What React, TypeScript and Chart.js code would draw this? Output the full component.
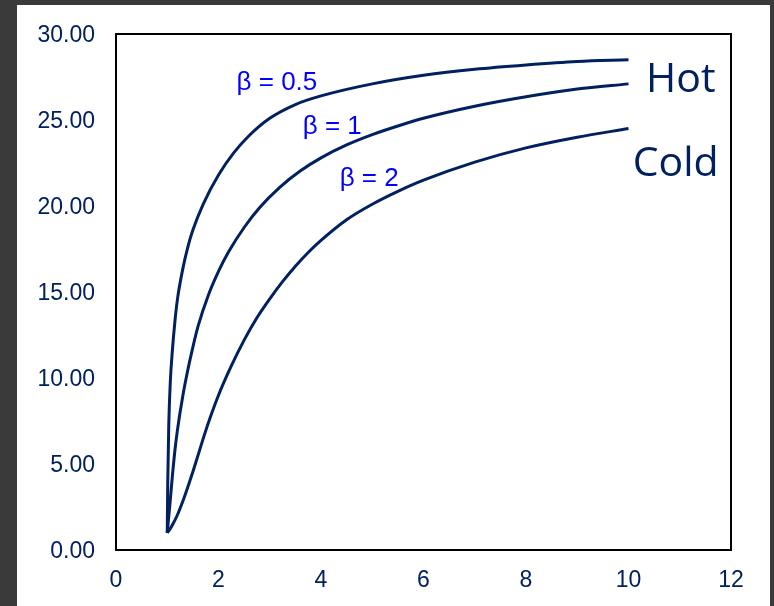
import React, { useEffect, useRef } from 'react';
import { Chart, registerables } from 'chart.js';

Chart.register(...registerables);

// Tick values
const xTickValues = [0, 2, 4, 6, 8, 10, 12];
const yTickValues = [0, 5, 10, 15, 20, 25, 30];

// Series beta = 0.5
const xBetaHalf = [1, 1.01, 1.03, 1.06, 1.1, 1.15, 1.2, 1.3, 1.4, 1.5, 1.7, 2.0, 2.3, 2.6, 3.0, 3.5, 4, 5, 6, 7, 8, 9, 10];
const yBetaHalf = [1, 4.0, 7.3, 9.8, 11.6, 13.3, 14.6, 16.3, 17.6, 18.6, 20.1, 21.8, 23.1, 24.1, 25.1, 25.9, 26.4, 27.1, 27.6, 27.95, 28.2, 28.4, 28.5];

// Series beta = 1
const xBetaOne = [1, 1.05, 1.1, 1.15, 1.2, 1.3, 1.4, 1.5, 1.6, 1.8, 2.0, 2.2, 2.5, 2.8, 3.2, 3.6, 4.0, 4.5, 5, 5.5, 6, 7, 8, 9, 10];
const yBetaOne = [1, 2.6, 4.3, 5.8, 7.0, 8.9, 10.45, 11.8, 13.0, 14.8, 16.2, 17.35, 18.75, 19.9, 21.1, 22.05, 22.8, 23.55, 24.15, 24.65, 25.1, 25.8, 26.35, 26.8, 27.1];

// Series beta = 2
const xBetaTwo = [1, 1.05, 1.1, 1.2, 1.3, 1.4, 1.5, 1.6, 1.72, 1.85, 2.0, 2.25, 2.5, 2.75, 3, 3.25, 3.5, 3.75, 4, 4.5, 5, 5.5, 6, 7, 8, 9, 10];
const yBetaTwo = [1, 1.2, 1.45, 2.05, 2.8, 3.65, 4.55, 5.5, 6.65, 7.8, 9.0, 10.7, 12.2, 13.5, 14.6, 15.6, 16.5, 17.3, 18.0, 19.2, 20.1, 20.85, 21.5, 22.55, 23.38, 24.0, 24.5];

// Text labels
const labelTexts = ['\u03b2 = 0.5', '\u03b2 = 1', '\u03b2 = 2', 'Hot', 'Cold'];
const labelX = [3.14, 4.22, 4.94, 11.02, 10.92];
const labelY = [27.15, 24.6, 21.6, 27.3, 22.4];

const NAVY = '#002060';

function toPoints(xs: number[], ys: number[]) {
  return xs.map((x, i) => ({ x, y: ys[i] }));
}

const framePlugin = {
  id: 'frameAndLabels',
  afterDatasetsDraw(chart: any) {
    const { ctx, chartArea, scales } = chart;
    ctx.save();
    ctx.strokeStyle = '#000000';
    ctx.lineWidth = 2;
    ctx.strokeRect(chartArea.left, chartArea.top, chartArea.right - chartArea.left, chartArea.bottom - chartArea.top);
    ctx.textAlign = 'center';
    ctx.textBaseline = 'middle';
    labelTexts.forEach((t, i) => {
      const px = scales.x.getPixelForValue(labelX[i]);
      const py = scales.y.getPixelForValue(labelY[i]);
      if (i < 3) {
        ctx.fillStyle = '#0000ff';
        ctx.font = '26px "Liberation Sans", Arial, sans-serif';
      } else {
        ctx.fillStyle = NAVY;
        ctx.font = '41px "Open Sans", sans-serif';
      }
      ctx.fillText(t, px, py);
    });
    ctx.restore();
  },
};

export default function App() {
  const canvasRef = useRef<HTMLCanvasElement | null>(null);

  useEffect(() => {
    document.body.style.margin = '0';
    const canvas = canvasRef.current;
    if (!canvas) return;
    const lineStyle = {
      borderColor: NAVY,
      borderWidth: 3,
      pointRadius: 0,
      fill: false,
      cubicInterpolationMode: 'monotone' as const,
    };
    const chart = new Chart(canvas, {
      type: 'line',
      data: {
        datasets: [
          { label: 'beta 0.5', data: toPoints(xBetaHalf, yBetaHalf), ...lineStyle },
          { label: 'beta 1', data: toPoints(xBetaOne, yBetaOne), ...lineStyle },
          { label: 'beta 2', data: toPoints(xBetaTwo, yBetaTwo), ...lineStyle },
        ],
      },
      options: {
        animation: false,
        responsive: false,
        maintainAspectRatio: false,
        layout: { padding: { left: 0, right: 39, top: 29, bottom: 0 } },
        plugins: { legend: { display: false }, tooltip: { enabled: false } },
        scales: {
          x: {
            type: 'linear',
            min: 0,
            max: 12,
            afterBuildTicks: (scale: any) => {
              scale.ticks = xTickValues.map((v) => ({ value: v }));
            },
            afterFit: (scale: any) => {
              scale.height = 56;
              scale.paddingLeft = 0;
              scale.paddingRight = 0;
            },
            grid: { display: false, drawTicks: false },
            border: { display: false },
            ticks: {
              color: NAVY,
              padding: 17,
              maxRotation: 0,
              font: { family: '"Liberation Sans", Arial, sans-serif', size: 23 },
            },
          },
          y: {
            type: 'linear',
            min: 0,
            max: 30,
            afterBuildTicks: (scale: any) => {
              scale.ticks = yTickValues.map((v) => ({ value: v }));
            },
            afterFit: (scale: any) => {
              scale.width = 99;
              scale.paddingTop = 0;
              scale.paddingBottom = 0;
            },
            grid: { display: false, drawTicks: false },
            border: { display: false },
            ticks: {
              color: NAVY,
              padding: 21,
              labelOffset: 2,
              callback: (v: any) => Number(v).toFixed(2),
              font: { family: '"Liberation Sans", Arial, sans-serif', size: 23 },
            },
          },
        },
      },
      plugins: [framePlugin],
    });
    return () => chart.destroy();
  }, []);

  return (
    <div style={{ position: 'relative', width: 774, height: 606, background: '#3a3a3a', overflow: 'hidden' }}>
      <div style={{ position: 'absolute', left: 17, top: 5, width: 753, height: 601, background: '#ffffff' }}>
        <canvas ref={canvasRef} width={753} height={601} style={{ display: 'block', width: 753, height: 601 }} />
      </div>
    </div>
  );
}
